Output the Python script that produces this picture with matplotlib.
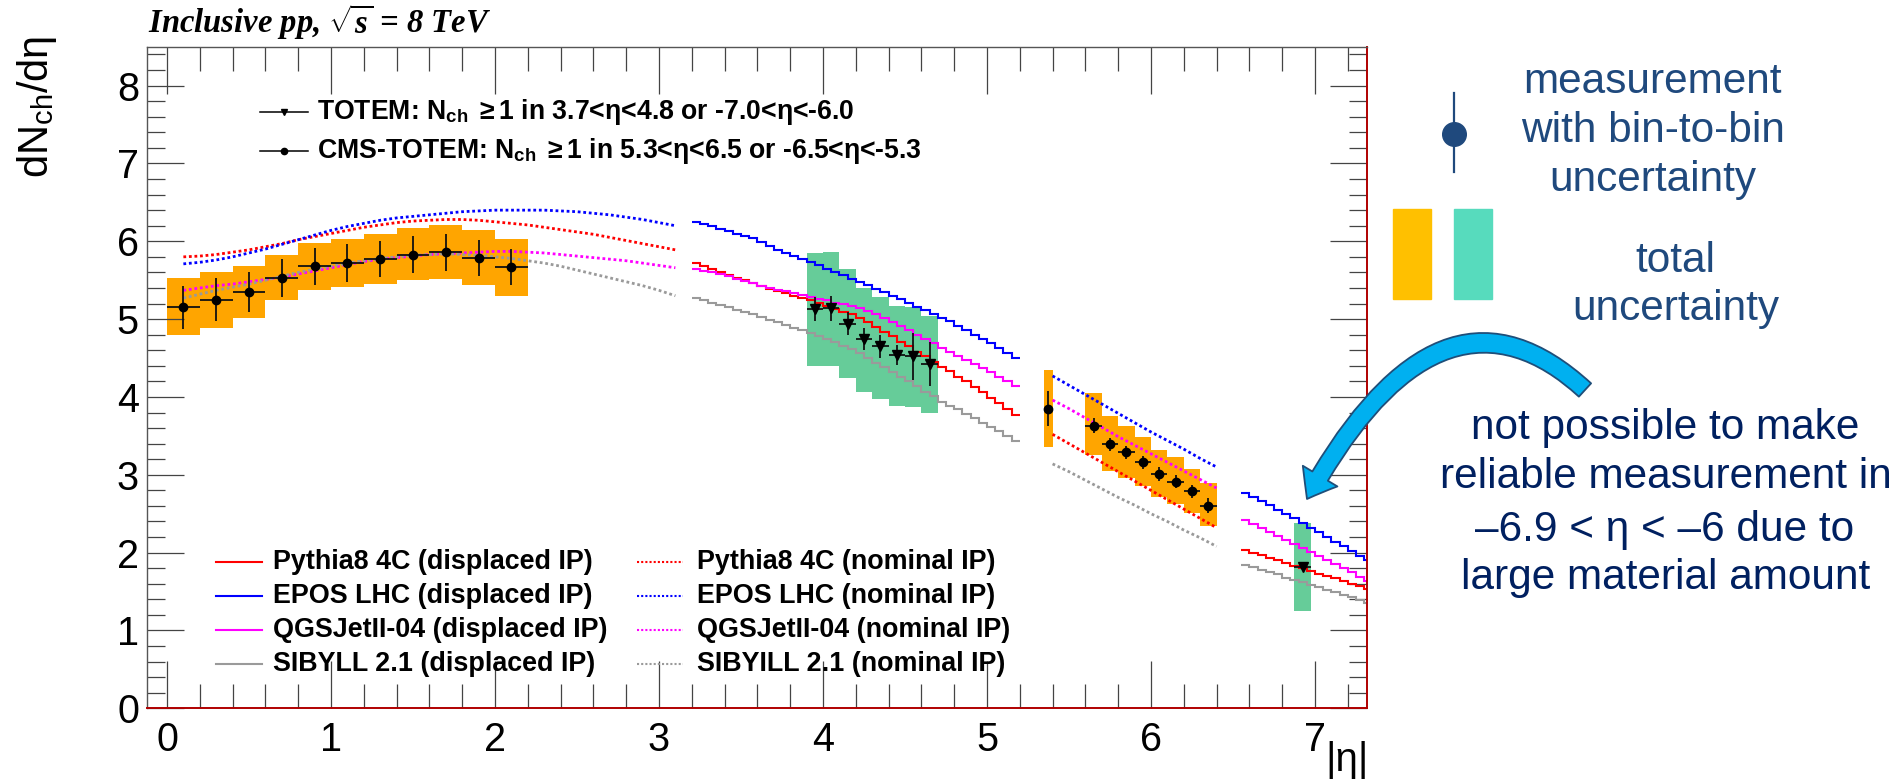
import matplotlib
matplotlib.use('Agg')
import matplotlib.pyplot as plt
from matplotlib.patches import FancyArrowPatch, Rectangle
from matplotlib.path import Path
from matplotlib.lines import Line2D
from matplotlib.ticker import MultipleLocator

plt.rcParams['font.family'] = ['Liberation Sans', 'DejaVu Sans']
plt.rcParams['mathtext.fontset'] = 'custom'
plt.rcParams['mathtext.rm'] = 'Liberation Serif:bold:italic'
plt.rcParams['mathtext.it'] = 'Liberation Serif:bold:italic'
plt.rcParams['mathtext.bf'] = 'Liberation Serif:bold:italic'

# ---------------- data ----------------
# central region, nominal IP model predictions (dotted)
eta_nom_c = [0.1, 0.2, 0.3, 0.4, 0.5, 0.6, 0.7, 0.8, 0.9, 1.0, 1.1, 1.2, 1.3, 1.4, 1.5, 1.6,
             1.7, 1.8, 1.9, 2.0, 2.1, 2.2, 2.3, 2.4, 2.5, 2.6, 2.7, 2.8, 2.9, 3.0, 3.1]
pythia_nom_c = [5.80, 5.81, 5.83, 5.86, 5.89, 5.93, 5.97, 6.02, 6.06, 6.10, 6.14, 6.18, 6.21, 6.24, 6.26, 6.27,
                6.28, 6.28, 6.27, 6.25, 6.23, 6.21, 6.18, 6.15, 6.12, 6.09, 6.05, 6.01, 5.97, 5.93, 5.89]
epos_nom_c = [5.71, 5.73, 5.76, 5.80, 5.85, 5.90, 5.96, 6.02, 6.08, 6.14, 6.19, 6.23, 6.27, 6.30, 6.32, 6.34,
              6.36, 6.38, 6.39, 6.40, 6.40, 6.40, 6.40, 6.39, 6.38, 6.36, 6.34, 6.31, 6.28, 6.24, 6.20]
qgs_nom_c = [5.37, 5.40, 5.43, 5.45, 5.48, 5.51, 5.54, 5.58, 5.62, 5.66, 5.70, 5.74, 5.77, 5.79, 5.81, 5.83,
             5.84, 5.85, 5.86, 5.87, 5.87, 5.86, 5.85, 5.83, 5.81, 5.79, 5.77, 5.75, 5.72, 5.69, 5.66]
sib_nom_c = [5.27, 5.32, 5.37, 5.41, 5.45, 5.50, 5.55, 5.60, 5.64, 5.68, 5.72, 5.75, 5.78, 5.80, 5.82, 5.83,
             5.84, 5.83, 5.82, 5.80, 5.78, 5.75, 5.72, 5.68, 5.63, 5.58, 5.53, 5.48, 5.43, 5.37, 5.30]

# forward region 3.2-5.2, displaced IP predictions (solid histograms)
edges_disp_a = [3.20, 3.25, 3.30, 3.35, 3.40, 3.45, 3.50, 3.55, 3.60, 3.65, 3.70, 3.75, 3.80, 3.85,
                3.90, 3.95, 4.00, 4.05, 4.10, 4.15, 4.20, 4.25, 4.30, 4.35, 4.40, 4.45, 4.50, 4.55,
                4.60, 4.65, 4.70, 4.75, 4.80, 4.85, 4.90, 4.95, 5.00, 5.05, 5.10, 5.15, 5.20]
pythia_disp_a = [5.72, 5.68, 5.64, 5.60, 5.57, 5.53, 5.50, 5.46, 5.43, 5.39, 5.36, 5.33, 5.30, 5.27,
                 5.24, 5.21, 5.17, 5.13, 5.09, 5.06, 5.02, 4.96, 4.90, 4.84, 4.78, 4.71, 4.65, 4.58,
                 4.52, 4.45, 4.39, 4.33, 4.26, 4.20, 4.13, 4.06, 3.99, 3.92, 3.85, 3.77]
epos_disp_a = [6.25, 6.22, 6.19, 6.16, 6.13, 6.10, 6.07, 6.04, 5.99, 5.94, 5.89, 5.85, 5.81, 5.77,
               5.73, 5.69, 5.65, 5.61, 5.57, 5.52, 5.48, 5.44, 5.39, 5.35, 5.30, 5.26, 5.21, 5.16,
               5.12, 5.07, 5.02, 4.97, 4.91, 4.86, 4.80, 4.75, 4.69, 4.63, 4.57, 4.50]
qgs_disp_a = [5.64, 5.62, 5.60, 5.58, 5.55, 5.52, 5.49, 5.46, 5.43, 5.40, 5.38, 5.36, 5.34, 5.31,
              5.29, 5.26, 5.24, 5.21, 5.19, 5.17, 5.14, 5.10, 5.06, 5.01, 4.96, 4.91, 4.86, 4.80,
              4.75, 4.69, 4.63, 4.58, 4.53, 4.47, 4.42, 4.37, 4.32, 4.26, 4.20, 4.14]
sib_disp_a = [5.27, 5.24, 5.21, 5.18, 5.15, 5.12, 5.09, 5.06, 5.03, 4.99, 4.96, 4.93, 4.89, 4.86,
              4.82, 4.78, 4.74, 4.70, 4.66, 4.61, 4.56, 4.50, 4.44, 4.38, 4.32, 4.26, 4.20, 4.14,
              4.07, 4.01, 3.94, 3.89, 3.84, 3.78, 3.73, 3.67, 3.62, 3.56, 3.50, 3.43]

# forward region 5.4-6.4, nominal IP predictions (dotted)
eta_nom_f = [5.4, 5.5, 5.6, 5.7, 5.8, 5.9, 6.0, 6.1, 6.2, 6.3, 6.4]
pythia_nom_f = [3.52, 3.40, 3.28, 3.16, 3.04, 2.92, 2.80, 2.68, 2.56, 2.44, 2.32]
epos_nom_f = [4.27, 4.15, 4.03, 3.91, 3.79, 3.67, 3.55, 3.44, 3.33, 3.21, 3.10]
qgs_nom_f = [3.96, 3.85, 3.73, 3.61, 3.49, 3.38, 3.27, 3.16, 3.05, 2.94, 2.83]
sib_nom_f = [3.14, 3.04, 2.93, 2.82, 2.71, 2.61, 2.50, 2.40, 2.29, 2.19, 2.08]

# very forward region 6.55-7.35, displaced IP predictions (solid histograms)
edges_disp_b = [6.55, 6.60, 6.65, 6.70, 6.75, 6.80, 6.85, 6.90, 6.95, 7.00, 7.05, 7.10, 7.15,
                7.20, 7.25, 7.30, 7.35]
pythia_disp_b = [2.03, 2.00, 1.97, 1.93, 1.90, 1.87, 1.83, 1.80, 1.77, 1.73, 1.70, 1.67, 1.63, 1.60, 1.57, 1.53]
epos_disp_b = [2.77, 2.72, 2.66, 2.61, 2.55, 2.49, 2.44, 2.38, 2.32, 2.26, 2.20, 2.14, 2.08, 2.02, 1.96, 1.91]
qgs_disp_b = [2.42, 2.37, 2.32, 2.27, 2.22, 2.16, 2.11, 2.06, 2.01, 1.96, 1.90, 1.85, 1.80, 1.75, 1.69, 1.64]
sib_disp_b = [1.84, 1.81, 1.78, 1.75, 1.72, 1.68, 1.65, 1.62, 1.59, 1.56, 1.52, 1.49, 1.46, 1.43, 1.39, 1.35]

# CMS-TOTEM central measurement
cms_c_eta = [0.1, 0.3, 0.5, 0.7, 0.9, 1.1, 1.3, 1.5, 1.7, 1.9, 2.1]
cms_c_width = [0.2] * 11
cms_c_val = [5.15, 5.25, 5.35, 5.53, 5.68, 5.72, 5.77, 5.83, 5.86, 5.79, 5.67]
cms_c_err = [0.28, 0.28, 0.26, 0.24, 0.24, 0.24, 0.23, 0.24, 0.24, 0.23, 0.23]
cms_c_top = [5.53, 5.61, 5.68, 5.83, 5.98, 6.03, 6.10, 6.17, 6.21, 6.15, 6.03]
cms_c_bot = [4.79, 4.88, 5.02, 5.25, 5.38, 5.41, 5.45, 5.50, 5.51, 5.44, 5.30]

# TOTEM T1 measurement
totem_eta = [3.95, 4.05, 4.15, 4.25, 4.35, 4.45, 4.55, 4.65]
totem_width = [0.1] * 8
totem_val = [5.13, 5.14, 4.94, 4.74, 4.65, 4.54, 4.52, 4.42]
totem_err = [0.16, 0.16, 0.15, 0.14, 0.145, 0.13, 0.30, 0.28]
totem_top = [5.85, 5.86, 5.64, 5.40, 5.29, 5.17, 5.15, 5.04]
totem_bot = [4.40, 4.40, 4.24, 4.06, 3.98, 3.88, 3.87, 3.80]

# CMS-TOTEM forward measurement
cms_f_eta = [5.375, 5.65, 5.75, 5.85, 5.95, 6.05, 6.15, 6.25, 6.35]
cms_f_width = [0.05, 0.1, 0.1, 0.1, 0.1, 0.1, 0.1, 0.1, 0.1]
cms_f_val = [3.85, 3.63, 3.39, 3.29, 3.16, 3.01, 2.91, 2.79, 2.60]
cms_f_err = [0.225, 0.096, 0.085, 0.085, 0.085, 0.085, 0.085, 0.085, 0.096]
cms_f_top = [4.34, 4.05, 3.75, 3.63, 3.48, 3.32, 3.23, 3.08, 2.89]
cms_f_bot = [3.36, 3.26, 3.05, 2.96, 2.85, 2.72, 2.63, 2.51, 2.34]

# TOTEM T2 measurement
totem2_eta = [6.925]
totem2_width = [0.1]
totem2_val = [1.82]
totem2_err = [0.03]
totem2_top = [2.38]
totem2_bot = [1.25]

labels_disp = ["Pythia8 4C (displaced IP)", "EPOS LHC (displaced IP)",
               "QGSJetII-04 (displaced IP)", "SIBYLL 2.1 (displaced IP)"]
labels_nom = ["Pythia8 4C (nominal IP)", "EPOS LHC (nominal IP)",
              "QGSJetII-04 (nominal IP)", "SIBYILL 2.1 (nominal IP)"]
model_colors = ['#ff0000', '#0000ff', '#ff00ff', '#9a9a9a']

ORANGE = '#ffa500'
GREEN = '#66cc99'
DOT = (0, (1, 1))

# ---------------- figure ----------------
W, H = 1897, 781
fig = plt.figure(figsize=(W / 100, H / 100), dpi=100)


def fx(p):
    return p / W


def fy(p):
    return 1 - p / H


ax = fig.add_axes([147.3 / W, 1 - 708.3 / H, 1220.0 / W, 661.6 / H])
ax.set_xlim(-0.120, 7.319)
ax.set_ylim(0, 8.5)


def boxes(eta, width, bot, top, color):
    for e, w, b, t in zip(eta, width, bot, top):
        ax.bar(e - w / 2, t - b, width=w, bottom=b, align='edge', color=color,
               edgecolor='none', zorder=1)


boxes(cms_c_eta, cms_c_width, cms_c_bot, cms_c_top, ORANGE)
boxes(totem_eta, totem_width, totem_bot, totem_top, GREEN)
boxes(cms_f_eta, cms_f_width, cms_f_bot, cms_f_top, ORANGE)
boxes(totem2_eta, totem2_width, totem2_bot, totem2_top, GREEN)

nom_c = [pythia_nom_c, epos_nom_c, qgs_nom_c, sib_nom_c]
nom_f = [pythia_nom_f, epos_nom_f, qgs_nom_f, sib_nom_f]
disp_a = [pythia_disp_a, epos_disp_a, qgs_disp_a, sib_disp_a]
disp_b = [pythia_disp_b, epos_disp_b, qgs_disp_b, sib_disp_b]
for col, yc, yf, da, db in zip(model_colors, nom_c, nom_f, disp_a, disp_b):
    ax.plot(eta_nom_c, yc, color=col, lw=2.0, ls=DOT, zorder=2)
    ax.plot(eta_nom_f, yf, color=col, lw=2.0, ls=DOT, zorder=2)
    ax.stairs(da, edges_disp_a, color=col, lw=1.5, baseline=None, zorder=2)
    ax.stairs(db, edges_disp_b, color=col, lw=1.5, baseline=None, zorder=2)

ekw = dict(color='black', ecolor='#111111', elinewidth=1.3, capsize=0, zorder=4, ls='none')
ax.errorbar(cms_c_eta, cms_c_val, yerr=cms_c_err, xerr=[w / 2 for w in cms_c_width],
            marker='o', ms=6, **ekw)
ax.errorbar(cms_f_eta, cms_f_val, yerr=cms_f_err, xerr=[w / 2 for w in cms_f_width],
            marker='o', ms=6, **ekw)
ax.errorbar(totem_eta, totem_val, yerr=totem_err, xerr=[w / 2 for w in totem_width],
            marker='v', ms=6.5, **ekw)
ax.errorbar(totem2_eta, totem2_val, yerr=totem2_err, xerr=[w / 2 for w in totem2_width],
            marker='v', ms=6.5, **ekw)

# axes styling (ROOT-like)
ax.xaxis.set_major_locator(MultipleLocator(1))
ax.xaxis.set_minor_locator(MultipleLocator(0.2))
ax.yaxis.set_major_locator(MultipleLocator(1))
ax.yaxis.set_minor_locator(MultipleLocator(0.2))
ax.tick_params(axis='both', which='both', direction='in', top=True, right=True,
               color='#444444', width=0.9, labelsize=28.5)
ax.tick_params(axis='x', which='major', length=34, pad=9)
ax.tick_params(axis='x', which='minor', length=17)
ax.tick_params(axis='y', which='major', length=26.5, pad=6)
ax.tick_params(axis='y', which='minor', length=13.3)
for s in ['left', 'top']:
    ax.spines[s].set_color('#555555')
    ax.spines[s].set_linewidth(1.0)
for s in ['bottom', 'right']:
    ax.spines[s].set_color('#b00000')
    ax.spines[s].set_linewidth(1.4)

# axis titles
fig.text(fx(37), fy(36), r"dN$_{\mathregular{ch}}$/dη", rotation=90, ha='center', va='top',
         fontsize=30)
fig.text(fx(1369), fy(779), "|η|", ha='right', va='bottom', fontsize=29)
fig.text(fx(148), fy(22), r"Inclusive pp, $\sqrt{s}$ = 8 TeV", family='Liberation Serif',
         fontweight='bold', style='italic', fontsize=23.5, va='center', ha='left')

# top legend
tl_rows = [112, 151]
tl_text = [r"TOTEM: N$_{\mathregular{ch}}$ $\mathregular{\geq}$1 in 3.7<η<4.8 or -7.0<η<-6.0",
           r"CMS-TOTEM: N$_{\mathregular{ch}}$ $\mathregular{\geq}$1 in 5.3<η<6.5 or -6.5<η<-5.3"]
tl_mark = ['v', 'o']
for yy, txt, mk in zip(tl_rows, tl_text, tl_mark):
    fig.add_artist(Line2D([fx(260), fx(308)], [fy(yy), fy(yy)], color='black', lw=1.1,
                          transform=fig.transFigure))
    fig.add_artist(Line2D([fx(284)], [fy(yy)], color='black', marker=mk, ms=4.5, ls='none',
                          transform=fig.transFigure))
    fig.text(fx(317), fy(yy), txt, fontsize=19.2, fontweight='bold', va='center', ha='left')

# bottom legend
bl_rows = [562, 596, 630, 664]
for yy, ld, ln, col in zip(bl_rows, labels_disp, labels_nom, model_colors):
    fig.add_artist(Line2D([fx(216), fx(262)], [fy(yy), fy(yy)], color=col, lw=1.5,
                          transform=fig.transFigure))
    fig.text(fx(273), fy(yy), ld, fontsize=19.4, fontweight='bold', va='center', ha='left')
    fig.add_artist(Line2D([fx(637), fx(683)], [fy(yy), fy(yy)], color=col, lw=1.5, ls=DOT,
                          transform=fig.transFigure))
    fig.text(fx(697), fy(yy), ln, fontsize=19.4, fontweight='bold', va='center', ha='left')

# right-hand annotations
C1 = '#1f497d'
C2 = '#002060'
fig.add_artist(Line2D([fx(1454), fx(1454)], [fy(93), fy(172)], color=C1, lw=1.6,
                      transform=fig.transFigure))
fig.add_artist(Line2D([fx(1454)], [fy(134)], color=C1, marker='o', ms=17, ls='none',
                      transform=fig.transFigure))
fig.add_artist(Rectangle((fx(1393), fy(299)), fx(38), 90 / H, color='#ffc000',
                         transform=fig.transFigure))
fig.add_artist(Rectangle((fx(1454), fy(299)), fx(38), 90 / H, color='#57dbbd',
                         transform=fig.transFigure))
for txt, xx, yy in [("measurement", 1653, 92.7), ("with bin-to-bin", 1653, 141.7),
                    ("uncertainty", 1653, 190.7), ("total", 1675, 271.7),
                    ("uncertainty", 1676, 320)]:
    fig.text(fx(xx), fy(yy), txt, fontsize=30.5, color=C1, ha='center', va='baseline')
for txt, xx, yy in [("not possible to make", 1665, 439.3),
                    ("reliable measurement in", 1666, 488.3),
                    ("\u20136.9 < η < \u20136 due to", 1665, 540.7),
                    ("large material amount", 1666, 589.3)]:
    fig.text(fx(xx), fy(yy), txt, fontsize=30.5, color=C2, ha='center', va='baseline')

# curved arrow
arrow_path = Path([(fx(1585), fy(390)), (fx(1440), fy(257)), (fx(1307), fy(499))],
                  [Path.MOVETO, Path.CURVE3, Path.CURVE3])
arr = FancyArrowPatch(path=arrow_path, arrowstyle='simple,head_width=2.9,head_length=1.9,tail_width=1.3',
                      mutation_scale=10, facecolor='#00b0f0', edgecolor='#1f4e79', lw=1.3,
                      transform=fig.transFigure)
fig.add_artist(arr)

fig.savefig('out.png', dpi=100)
